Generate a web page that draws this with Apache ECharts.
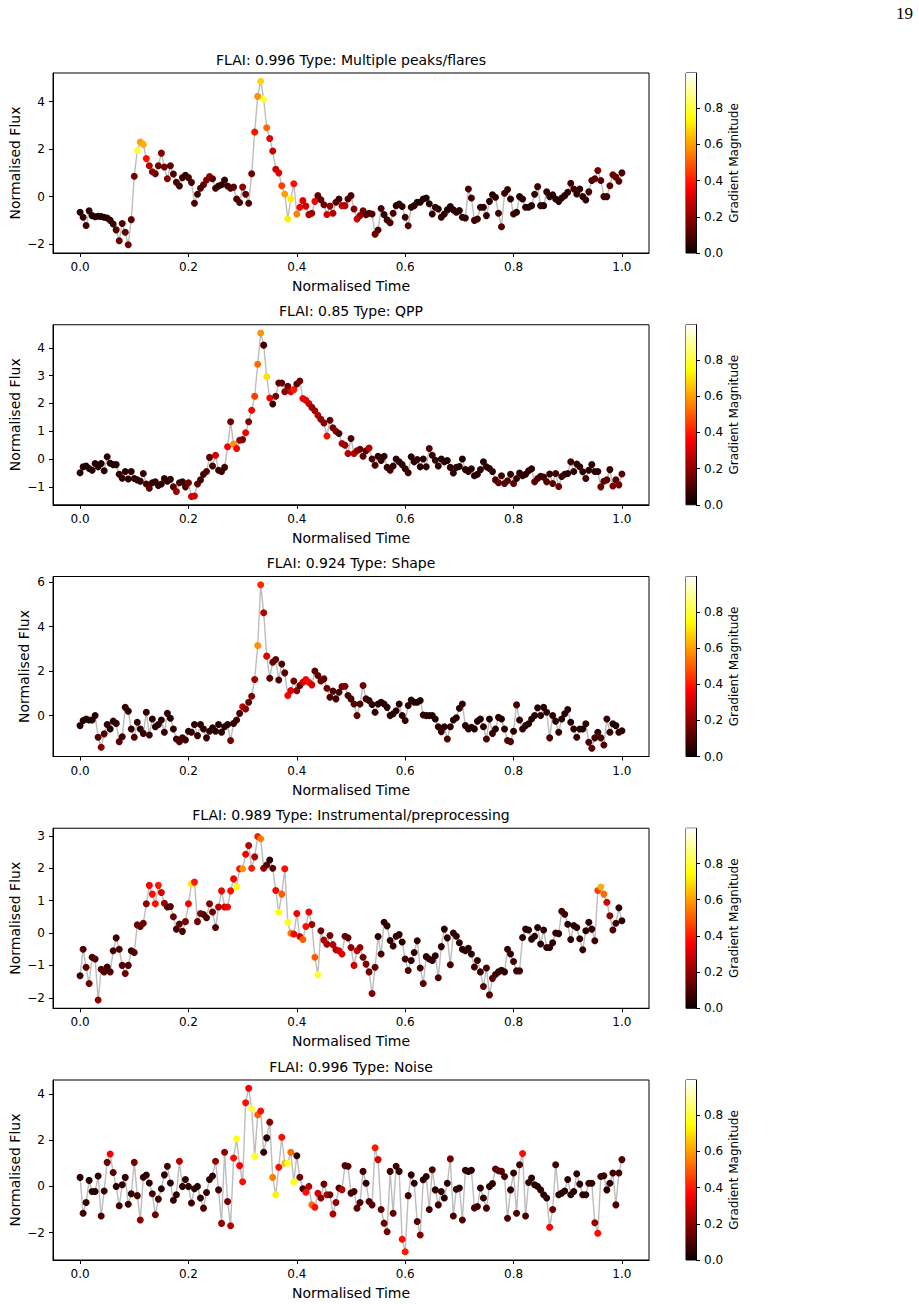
<!DOCTYPE html>
<html>
<head>
<meta charset="utf-8">
<script src="https://cdn.jsdelivr.net/npm/echarts@6/dist/echarts.min.js"></script>
<style>
  html, body { margin: 0; background: #fff; }
  #chart { width: 919px; height: 1304px; }
</style>
</head>
<body>
<div id="chart"></div>
<script>
// panel titles and tick values
const titles = [
  'FLAI: 0.996 Type: Multiple peaks/flares',
  'FLAI: 0.85 Type: QPP',
  'FLAI: 0.924 Type: Shape',
  'FLAI: 0.989 Type: Instrumental/preprocessing',
  'FLAI: 0.996 Type: Noise'
];
const xTicks = [0, 0.2, 0.4, 0.6, 0.8, 1.0];
const yTicks = [
  [-2, 0, 2, 4],
  [-1, 0, 1, 2, 3, 4],
  [0, 2, 4, 6],
  [-2, -1, 0, 1, 2, 3],
  [-2, 0, 2, 4]
];
const cbTicks = [0, 0.2, 0.4, 0.6, 0.8];
const gradMax = 0.995;

// normalised flux, evenly spaced in normalised time
const flux1 = [-0.66,-0.87,-1.22,-0.6,-0.8,-0.85,-0.83,-0.84,-0.87,-0.9,
  -1.0,-1.15,-1.4,-1.86,-1.13,-1.5,-2.03,-0.97,0.86,1.94,
  2.3,2.2,1.6,1.3,1.05,0.96,1.3,1.83,1.25,0.75,
  1.3,0.95,0.6,0.45,0.8,0.9,0.8,0.6,-0.28,0.1,
  0.35,0.5,0.7,0.85,0.75,0.35,0.45,0.5,0.7,0.45,
  0.35,0.4,-0.1,-0.25,0.4,0.1,-0.28,0.96,2.72,4.22,
  4.86,4.1,2.9,2.45,1.92,1.15,1.0,0.46,0.11,-0.94,
  -0.1,0.54,-0.73,-0.45,-0.17,-0.4,-0.76,-0.7,-0.2,0.04,
  -0.13,-0.34,-0.75,-0.4,-0.7,-0.24,-0.1,-0.38,-0.38,-0.1,
  0.04,-0.52,-0.94,-0.8,-0.6,-0.76,-0.7,-0.73,-1.58,-1.41,
  -0.5,-0.76,-0.98,-1.1,-0.7,-0.38,-0.31,-0.42,-0.87,-1.23,
  -0.45,-0.38,-0.24,-0.24,-0.1,-0.06,-0.3,-0.73,-0.45,-0.52,
  -0.87,-0.73,-0.56,-0.42,-0.56,-0.66,-0.59,-0.87,-0.9,0.32,
  -0.06,-1.0,-0.94,-0.45,-0.45,-0.8,-0.2,0.08,-0.03,-0.7,
  -1.27,0.14,0.3,-0.1,-0.73,-0.66,0.0,-0.1,-0.45,-0.45,
  -0.38,0.1,0.42,-0.38,-0.38,0.2,0.0,0.08,-0.1,-0.2,
  -0.06,0.04,0.18,0.56,0.32,0.11,0.32,0.0,-0.14,0.2,
  0.68,0.75,1.1,0.68,0.0,0.0,0.46,0.92,0.82,0.65,
  1.0];
const flux2 = [-0.49,-0.28,-0.25,-0.34,-0.4,-0.16,-0.28,-0.16,-0.42,0.08,
  -0.15,-0.2,-0.2,-0.55,-0.69,-0.45,-0.72,-0.45,-0.7,-0.75,
  -0.8,-0.52,-0.9,-1.05,-0.85,-0.82,-0.95,-0.9,-0.7,-0.8,
  -0.73,-1.0,-1.17,-0.85,-0.82,-1.0,-0.85,-1.35,-1.33,-0.9,
  -0.75,-0.55,-0.45,0.06,-0.25,0.14,-0.4,-0.45,-0.3,0.44,
  1.34,0.54,0.38,0.68,0.7,0.95,1.34,1.76,2.26,3.41,
  4.54,4.1,2.96,2.2,1.98,2.26,2.74,2.74,2.42,2.62,
  2.42,2.5,2.7,2.81,2.18,2.12,2.0,1.86,1.74,1.58,
  1.43,1.3,0.83,1.4,1.13,1.0,0.92,0.56,0.5,0.2,
  0.74,0.2,0.3,0.35,0.1,0.3,0.4,0.0,-0.22,0.1,
  -0.05,0.1,-0.3,-0.4,-0.25,0.0,-0.1,-0.2,-0.35,-0.49,
  0.08,-0.1,-0.02,-0.28,0.0,-0.28,0.38,0.14,-0.04,-0.25,
  0.0,-0.1,-0.05,-0.3,-0.5,-0.3,-0.27,0.0,-0.38,-0.45,
  -0.35,-0.6,-0.55,-0.38,-0.1,-0.28,-0.34,-0.45,-0.75,-0.85,
  -0.6,-0.88,-0.78,-0.55,-0.88,-0.7,-0.5,-0.6,-0.55,-0.42,
  -0.35,-0.82,-0.7,-0.62,-0.65,-0.82,-0.54,-0.88,-0.52,-0.99,
  -0.63,-0.55,-0.52,-0.1,-0.45,-0.18,-0.28,-0.46,-0.7,-0.4,
  -0.2,-0.45,-0.45,-1.0,-0.8,-0.75,-0.38,-0.97,-0.75,-0.93,
  -0.54];
const flux3 = [-0.45,-0.22,-0.15,-0.2,-0.2,0.0,-0.97,-1.42,-0.82,-0.4,
  -0.6,-0.25,-0.35,-1.17,-0.95,0.37,0.2,-0.6,-0.97,-0.3,
  -0.6,-0.8,0.15,-0.87,-0.15,-0.5,-0.4,-0.2,-0.75,0.1,
  -0.12,-0.6,-1.05,-1.17,-1.0,-1.1,-0.7,-0.75,-0.4,-0.9,
  -0.4,-0.6,-1.0,-0.7,-0.55,-0.7,-0.4,-0.75,-0.5,-0.4,
  -1.12,-0.35,-0.2,0.1,0.4,0.3,0.6,0.87,1.62,3.15,
  5.88,4.62,2.67,1.68,2.4,2.52,1.6,2.32,1.92,0.9,
  1.12,1.55,1.12,1.35,1.5,1.62,1.5,1.38,2.0,1.8,
  1.55,1.65,1.23,0.82,1.1,0.75,1.05,1.3,1.32,0.9,
  0.75,0.52,0.0,0.52,1.35,0.75,0.68,0.5,0.15,0.52,
  0.6,0.52,0.37,0.0,0.08,0.22,0.52,0.0,-0.22,0.45,
  0.7,0.6,0.6,0.68,0.03,0.0,0.0,0.0,-0.15,-0.5,
  -0.72,-0.5,-1.05,-0.5,-0.2,-0.1,0.33,0.52,-0.45,-0.6,
  -0.52,-0.6,-0.25,-0.15,-0.5,-1.05,-0.15,-0.8,-0.6,-0.08,
  -0.15,-0.6,-1.12,-1.17,-0.7,0.48,-0.2,-0.6,-0.45,-0.37,
  -0.15,0.0,0.35,0.0,0.37,0.15,-1.0,0.0,-0.25,-0.75,
  -0.15,0.08,0.27,-0.3,-0.6,-0.97,-0.6,-0.6,-0.37,-1.2,
  -1.47,-1.0,-0.75,-1.0,-1.32,-0.15,-0.75,-0.37,-0.45,-0.75,
  -0.68];
const flux4 = [-1.32,-0.5,-1.06,-1.56,-0.75,-0.8,-2.07,-1.12,-1.2,-1.05,
  -1.2,-0.55,-0.15,-0.5,-1.0,-1.25,-1.0,-0.55,-0.6,0.25,
  0.2,0.3,0.9,1.47,1.2,0.9,1.47,1.25,0.92,0.8,
  0.82,0.5,0.12,0.28,0.05,0.35,0.9,1.52,1.57,0.35,
  0.6,0.57,0.47,0.9,0.65,0.17,0.8,1.3,0.8,0.8,
  1.3,1.67,1.42,1.98,1.98,2.43,2.7,2.0,2.35,2.98,
  2.91,2.0,2.1,2.25,2.0,1.31,0.64,1.2,1.98,0.33,
  -0.01,-0.03,0.6,-0.11,-0.2,0.2,0.65,0.26,-0.75,-1.29,
  0.07,-0.22,-0.35,-0.08,-0.36,-0.52,-0.55,-0.65,-0.1,-0.15,
  -0.45,-1.0,-0.55,-0.45,-0.75,-0.96,-1.2,-1.87,-1.06,-0.11,
  -0.65,0.33,0.22,-0.23,-0.4,-0.1,-0.05,-0.28,-0.8,-1.16,
  -0.85,-0.6,-0.24,-1.08,-1.56,-0.73,-0.8,-0.85,-0.7,-1.38,
  -0.42,0.12,-0.15,-0.98,0.0,-0.1,-0.3,-0.5,-0.55,-0.47,
  -0.65,-1.05,-0.85,-1.2,-1.65,-1.08,-1.91,-1.4,-1.28,-1.2,
  -1.15,-1.2,-0.5,-0.65,-0.88,-1.17,-1.17,-0.14,0.12,0.09,
  -0.19,-0.1,0.17,-0.34,0.09,-0.45,-0.45,-0.3,0.0,-0.02,
  0.67,0.58,0.27,-0.2,0.23,0.17,-0.18,-0.52,0.07,0.33,
  0.12,-0.24,1.31,1.42,1.2,0.95,0.53,0.09,0.3,0.78,
  0.38];
const flux5 = [0.39,-1.16,-0.7,0.26,-0.22,-0.22,0.45,-1.28,-0.2,1.04,
  1.4,0.6,0.0,-0.84,0.07,0.39,-0.77,-0.32,1.04,-0.4,
  -1.45,0.4,0.49,0.15,-0.32,-1.23,-0.55,-0.1,0.5,0.87,
  0.15,-0.6,-0.36,1.09,0.0,0.3,0.0,-0.72,-0.1,0.0,
  -0.5,-0.94,-0.26,0.3,0.45,1.09,-0.15,-1.6,1.48,-0.65,
  -1.7,1.23,2.06,0.9,0.2,3.62,4.25,3.36,1.3,3.1,
  3.26,1.48,2.1,2.78,0.39,-0.36,0.83,2.13,1.0,1.0,
  1.48,0.2,1.33,0.4,-0.1,-0.25,0.0,-0.8,-0.9,-0.3,
  -0.5,0.1,-0.36,-0.36,-1.19,-0.7,-0.07,-0.14,0.9,0.87,
  -0.29,-0.22,-0.94,-0.7,0.65,0.14,-0.65,-0.8,1.67,1.16,
  -1.0,-1.59,-1.96,0.65,-1.16,0.87,0.65,-2.29,-2.83,-0.4,
  0.5,0.14,-1.52,-2.1,0.29,0.43,-1.0,0.72,-0.15,-0.8,
  -0.22,-0.5,0.14,1.19,-1.28,-0.12,-0.07,-1.45,0.7,0.65,
  0.7,-0.93,-0.87,-0.07,-0.5,-0.94,0.0,0.12,0.75,0.68,
  0.65,0.43,-1.38,-0.15,0.58,-1.16,0.94,1.42,-1.28,0.17,
  0.36,0.07,0.0,-0.15,-0.36,-0.5,-1.77,-1.0,0.94,-0.36,
  -0.29,-0.2,0.3,-0.36,-0.22,0.55,0.1,-0.36,-0.36,0.14,
  0.14,-1.57,-2.03,0.43,0.46,-0.15,0.14,0.58,-0.8,0.58,
  1.16];

// gradient magnitude per point, in hundredths
const grad1 = [4,5,8,5,4,3,3,3,3,4, 5,6,10,14,10,12,15,12,15,80,
  60,62,38,25,20,15,15,18,15,18, 12,10,8,8,8,6,8,10,10,8,
  10,12,18,20,12,8,5,5,6,8, 10,12,10,10,20,12,10,15,38,58,
  68,80,52,32,28,28,32,45,60,72, 72,38,55,35,32,30,25,22,35,15,
  12,15,30,20,25,12,8,28,25,12, 10,18,30,22,15,12,10,10,15,12,
  8,6,8,10,8,5,4,5,8,10, 6,5,4,4,3,3,4,6,5,5,
  6,5,4,4,4,5,5,6,6,10, 8,8,8,5,5,6,5,4,5,8,
  10,8,6,5,6,5,4,5,4,4, 4,6,8,6,5,6,4,4,4,5,
  4,5,6,8,8,6,6,5,6,8, 10,12,15,12,8,8,12,15,14,12,
  10];
const grad2 = [4,4,3,3,4,4,3,3,4,5, 4,3,5,6,6,5,5,5,4,5,
  6,6,10,12,6,5,6,5,5,5, 6,10,22,8,6,10,15,30,30,12,
  8,8,10,12,8,30,8,6,8,35, 15,58,35,20,18,35,18,35,45,52,
  58,8,70,35,8,15,12,12,20,15, 30,40,12,15,35,32,30,20,22,25,
  20,18,38,12,15,20,10,25,22,25, 10,25,20,15,12,12,25,8,10,6,
  6,5,6,8,6,5,5,5,6,8, 6,5,5,4,5,5,10,8,5,5,
  4,4,4,5,5,5,4,4,5,5, 5,5,5,5,4,5,5,6,10,12,
  8,12,10,6,12,6,5,5,5,5, 5,12,10,8,8,12,6,12,8,15,
  8,5,5,8,5,5,5,5,8,5, 5,5,5,15,12,12,6,18,12,15,
  12];
const grad3 = [4,4,4,3,3,4,10,18,10,5, 4,5,5,12,8,6,5,6,10,5,
  5,6,6,8,5,5,4,5,6,5, 4,5,8,10,8,8,5,5,5,6,
  5,5,6,5,4,5,5,5,4,4, 15,6,8,10,25,20,12,18,22,58,
  42,25,32,12,14,12,10,10,12,35, 32,15,20,10,30,35,38,30,12,12,
  15,12,15,10,10,8,10,15,18,10, 8,10,12,10,15,8,6,5,5,4,
  4,4,5,5,4,4,5,5,6,5, 4,4,3,3,4,4,3,3,4,5,
  6,5,10,5,4,4,5,6,5,4, 4,4,4,4,5,10,4,6,5,4,
  4,5,10,10,5,8,5,5,4,4, 4,4,4,4,4,4,10,5,4,6,
  4,4,4,4,5,6,4,4,5,10, 12,8,6,8,12,6,6,4,4,5,
  5];
const grad4 = [8,10,12,15,10,10,20,12,10,8, 10,8,8,10,12,15,10,8,10,15,
  12,15,20,35,38,38,40,30,22,12, 10,15,10,12,10,15,35,70,40,15,
  20,10,10,18,15,10,25,35,30,35, 38,35,75,38,58,35,25,40,25,40,
  55,20,12,5,12,35,75,50,38,76, 55,35,35,30,50,38,35,22,50,78,
  15,25,22,15,25,25,30,32,15,12, 20,30,28,20,15,18,15,18,12,5,
  8,5,5,5,6,5,5,5,8,10, 6,5,5,8,12,6,5,5,5,10,
  5,5,5,8,5,5,5,5,5,5, 5,8,6,8,12,8,12,10,8,6,
  6,5,6,5,8,8,8,5,5,5, 5,5,5,5,5,5,5,5,5,5,
  10,8,5,5,5,5,5,6,5,5, 5,8,45,62,52,30,18,10,8,5,
  5];
const grad5 = [5,8,6,5,4,4,5,10,6,15, 35,12,5,8,5,5,8,6,15,8,
  20,6,5,5,8,15,8,5,6,8, 5,6,5,25,5,5,4,8,5,4,
  5,10,6,5,6,20,8,20,20,15, 25,38,75,35,38,38,35,80,78,50,
  38,5,5,18,55,72,38,38,65,80, 52,75,5,15,10,38,25,52,38,30,
  20,15,25,15,25,20,10,25,12,10, 8,8,12,10,8,6,10,12,40,30,
  12,15,15,8,12,8,6,38,40,8, 6,5,10,18,5,5,8,10,5,8,
  5,5,5,15,10,5,5,10,5,5, 5,8,8,5,5,8,5,5,12,12,
  12,8,10,5,6,10,8,38,10,5, 5,5,5,5,5,6,35,15,8,5,
  5,5,5,5,5,6,5,5,5,5, 6,20,38,8,6,5,5,8,10,8,
  10];

const panels = [
  { flux: flux1, grad: grad1 },
  { flux: flux2, grad: grad2 },
  { flux: flux3, grad: grad3 },
  { flux: flux4, grad: grad4 },
  { flux: flux5, grad: grad5 }
];

// matplotlib 'hot' colormap
function hot(t) {
  const r = Math.min(1, 0.0416 + 0.9584 * t / 0.365079);
  const g = Math.max(0, Math.min(1, (t - 0.365079) / 0.380953));
  const b = Math.max(0, Math.min(1, (t - 0.746032) / 0.253968));
  return 'rgb(' + [r, g, b].map((c) => Math.round(c * 255)).join(',') + ')';
}
const hotColors = Array.from({ length: 41 }, (_, k) => hot(k / 40));

const FONT = 'DejaVu Sans';
const TOP0 = 73;
const STEP = 251.75;
const H = 180;
const minus = (v) => (v < 0 ? '\u2212' + Math.abs(v) : String(v));

const chart = echarts.init(document.getElementById('chart'), null, { renderer: 'svg' });

const grid = [];
const xAxis = [];
const yAxis = [];
const series = [];
const visualMap = [];
const graphic = [];

panels.forEach((p, k) => {
  const top = TOP0 + k * STEP;
  const n = p.flux.length;
  const lo = Math.min(...p.flux);
  const hi = Math.max(...p.flux);
  const pad = (hi - lo) * 0.05;
  const narrow = yTicks[k].every((v) => v >= 0);

  grid.push({
    left: 53, top: top, width: 596, height: H, show: true,
    borderColor: '#000', borderWidth: 1, outerBoundsMode: 'none'
  });
  xAxis.push({
    gridIndex: k, type: 'value', min: -0.05, max: 1.05,
    axisLine: { show: true, onZero: false, lineStyle: { color: '#000', width: 1 } },
    axisTick: { show: true, customValues: xTicks, length: 4, lineStyle: { color: '#000' } },
    axisLabel: { customValues: xTicks, formatter: (v) => v.toFixed(1), color: '#000', fontSize: 12, fontFamily: FONT, margin: 8 },
    splitLine: { show: false },
    name: 'Normalised Time', nameLocation: 'middle', nameGap: 26, nameMoveOverlap: false,
    nameTextStyle: { fontSize: 14, fontFamily: FONT, color: '#000' }
  });
  yAxis.push({
    gridIndex: k, type: 'value', min: lo - pad, max: hi + pad,
    axisLine: { show: true, onZero: false, lineStyle: { color: '#000', width: 1 } },
    axisTick: { show: true, customValues: yTicks[k], length: 4, lineStyle: { color: '#000' } },
    axisLabel: { customValues: yTicks[k], formatter: minus, color: '#000', fontSize: 12, fontFamily: FONT, margin: 8 },
    splitLine: { show: false },
    name: 'Normalised Flux', nameLocation: 'middle', nameRotate: 90,
    nameGap: narrow ? 22 : 31, nameMoveOverlap: false,
    nameTextStyle: { fontSize: 14, fontFamily: FONT, color: '#000' }
  });

  const line = p.flux.map((v, i) => [i / (n - 1), v]);
  const pts = p.flux.map((v, i) => [i / (n - 1), v, p.grad[i] / 100]);
  series.push({
    type: 'line', xAxisIndex: k, yAxisIndex: k, data: line,
    showSymbol: false, silent: true, z: 1,
    lineStyle: { color: '#bdbdbd', width: 1.4 }
  });
  series.push({
    type: 'scatter', xAxisIndex: k, yAxisIndex: k, data: pts,
    symbolSize: 7, z: 2, itemStyle: { opacity: 1 }
  });
  visualMap.push({
    type: 'continuous', show: false, seriesIndex: series.length - 1,
    dimension: 2, min: 0, max: gradMax, inRange: { color: hotColors }
  });

  graphic.push({
    type: 'text', x: 351, y: top - 13.5,
    style: { text: titles[k], textAlign: 'center', textVerticalAlign: 'middle', font: '14px "DejaVu Sans"', fill: '#000' }
  });
});

// colorbars
panels.forEach((p, k) => {
  const top = TOP0 + k * STEP;
  const gi = panels.length + k;
  grid.push({
    left: 686, top: top, width: 10, height: H, show: true,
    borderColor: '#000', borderWidth: 1, outerBoundsMode: 'none'
  });
  xAxis.push({ gridIndex: gi, type: 'category', data: [''], show: false });
  yAxis.push({
    gridIndex: gi, type: 'value', min: 0, max: gradMax, position: 'right',
    axisLine: { show: true, lineStyle: { color: '#000', width: 1 } },
    axisTick: { show: true, customValues: cbTicks, length: 4, lineStyle: { color: '#000' } },
    axisLabel: { customValues: cbTicks, formatter: (v) => v.toFixed(1), color: '#000', fontSize: 12, fontFamily: FONT, margin: 8 },
    splitLine: { show: false },
    name: 'Gradient Magnitude', nameLocation: 'middle', nameRotate: 90, nameGap: 32, nameMoveOverlap: false,
    nameTextStyle: { fontSize: 12, fontFamily: FONT, color: '#000' }
  });
  series.push({
    type: 'bar', xAxisIndex: gi, yAxisIndex: gi, data: [gradMax],
    barWidth: '100%', silent: true,
    itemStyle: {
      color: new echarts.graphic.LinearGradient(0, 1, 0, 0,
        hotColors.map((c, j) => ({ offset: j / (hotColors.length - 1), color: c })))
    }
  });
});

graphic.push({
  type: 'text', x: 913, y: 13,
  style: { text: '19', textAlign: 'right', textVerticalAlign: 'middle', font: '17px "Liberation Serif"', fill: '#000' }
});

chart.setOption({
  animation: false,
  backgroundColor: '#fff',
  grid: grid,
  xAxis: xAxis,
  yAxis: yAxis,
  visualMap: visualMap,
  series: series,
  graphic: graphic
});
</script>
</body>
</html>
